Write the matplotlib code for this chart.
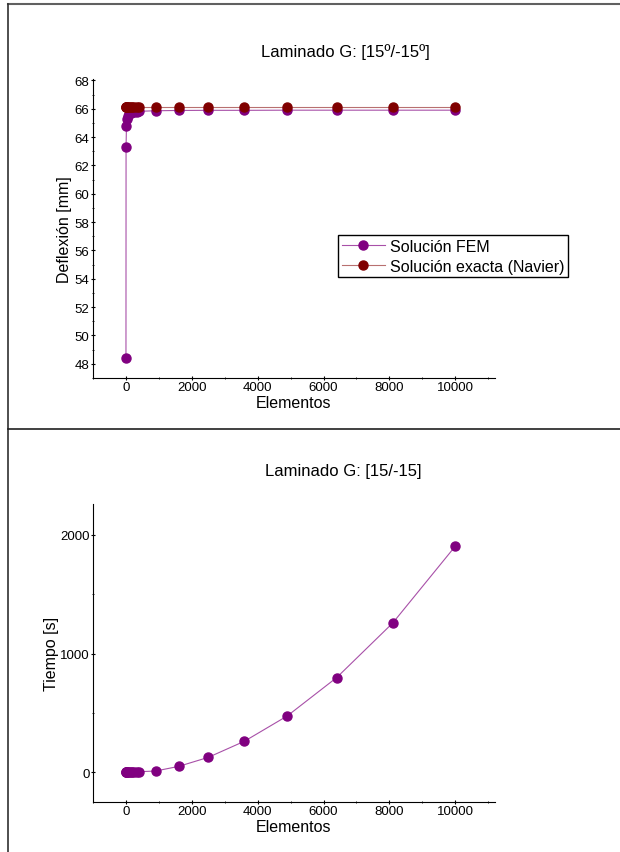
import numpy as np
import matplotlib.pyplot as plt
from matplotlib.lines import Line2D
from matplotlib.ticker import MultipleLocator

plt.rcParams['font.family'] = ['Liberation Sans', 'DejaVu Sans']

# numero de elementos de la malla
elementos = [1, 4, 16, 36, 64, 100, 144, 196, 256, 324, 400,
             900, 1600, 2500, 3600, 4900, 6400, 8100, 10000]
# deflexion FEM [mm]
defl_fem = [48.4, 63.3, 64.8, 65.25, 65.5, 65.62, 65.7, 65.75, 65.78, 65.8, 65.82,
            65.86, 65.88, 65.89, 65.89, 65.9, 65.9, 65.9, 65.9]
# solucion exacta de Navier [mm]
defl_navier = [66.1] * len(elementos)
# tiempo de calculo [s]
tiempo = [0.05, 0.1, 0.2, 0.4, 0.7, 1.1, 1.6, 2.2, 3.0, 4.0, 5.2,
          11, 50, 126, 262, 475, 798, 1257, 1904]

purple = '#800080'
purple_line = '#a850a8'
darkred = '#800000'
red_line = '#b87070'

fig = plt.figure(figsize=(6.2, 8.53), dpi=100)

# marcos
fig.add_artist(Line2D([8/620, 1], [1 - 5/853, 1 - 5/853], color='#606060', lw=1.5))
fig.add_artist(Line2D([8/620, 8/620], [0, 1 - 5/853], color='#303030', lw=1.2))
fig.add_artist(Line2D([8/620, 1], [1 - 430/853, 1 - 430/853], color='#202020', lw=1.2))

ax1 = fig.add_axes([0.15, 0.5557, 0.648, 0.3505])
ax1.plot(elementos, defl_fem, '-o', color=purple_line, lw=0.8,
         mfc=purple, mec=purple, ms=6.5, label='Solución FEM')
ax1.plot(elementos, defl_navier, '-o', color=red_line, lw=0.8,
         mfc=darkred, mec=darkred, ms=6.5, label='Solución exacta (Navier)')
ax1.set_xlim(-1000, 11200)
ax1.set_ylim(47, 68.1)
ax1.yaxis.set_major_locator(MultipleLocator(2))
ax1.yaxis.set_minor_locator(MultipleLocator(1))
fig.text(345/620, 1 - 52/853, 'Laminado G: [15º/-15º]', fontsize=12,
         ha='center', va='center')
ax1.set_xlabel('Elementos', fontsize=11.5, labelpad=1)
ax1.set_ylabel('Deflexión [mm]', fontsize=11.5, labelpad=2)
ax1.legend(loc='upper left', bbox_to_anchor=(0.61, 0.478), fontsize=11.5,
           fancybox=False, edgecolor='black', framealpha=1,
           borderpad=0.22, handlelength=2.7, handletextpad=0.3,
           labelspacing=0.33, borderaxespad=0)

ax2 = fig.add_axes([0.15, 0.0586, 0.648, 0.3494])
ax2.plot(elementos, tiempo, '-o', color=purple_line, lw=0.8,
         mfc=purple, mec=purple, ms=6.5)
ax2.set_xlim(-1000, 11200)
ax2.set_ylim(-250, 2260)
ax2.yaxis.set_major_locator(MultipleLocator(1000))
ax2.yaxis.set_minor_locator(MultipleLocator(500))
fig.text(343/620, 1 - 472/853, 'Laminado G: [15/-15]', fontsize=12,
         ha='center', va='center')
ax2.set_xlabel('Elementos', fontsize=11.5, labelpad=1)
ax2.set_ylabel('Tiempo [s]', fontsize=11.5, labelpad=0.5)

for ax in (ax1, ax2):
    ax.spines['top'].set_visible(False)
    ax.spines['right'].set_visible(False)
    ax.xaxis.set_major_locator(MultipleLocator(2000))
    ax.xaxis.set_minor_locator(MultipleLocator(1000))
    ax.tick_params(which='major', direction='inout', length=3, width=0.8,
                   labelsize=9.5, pad=1)
    ax.tick_params(which='minor', direction='inout', length=2, width=0.6)

fig.savefig('out.png', dpi=100)
